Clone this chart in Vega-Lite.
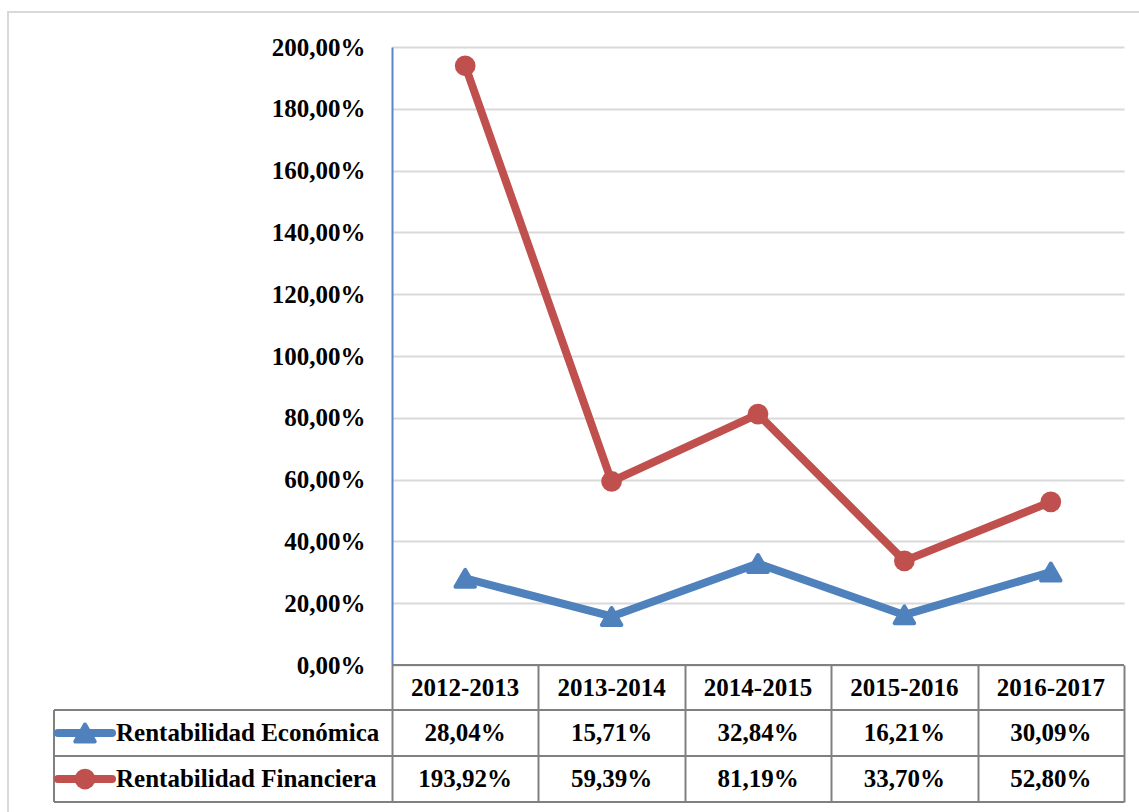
{
  "$schema": "https://vega.github.io/schema/vega-lite/v6.json",
  "width": 732,
  "height": 618,
  "autosize": {"type": "none"},
  "padding": {"left": 392, "top": 47, "right": 15, "bottom": 147},
  "background": "white",
  "config": {
    "view": {"stroke": null},
    "font": "Liberation Serif",
    "text": {"font": "Liberation Serif", "fontWeight": "bold", "fontSize": 25, "color": "#000000", "baseline": "middle"}
  },
  "data": {
    "values": [
      {"period": "2012-2013", "re": 28.04, "rf": 193.92},
      {"period": "2013-2014", "re": 15.71, "rf": 59.39},
      {"period": "2014-2015", "re": 32.84, "rf": 81.19},
      {"period": "2015-2016", "re": 16.21, "rf": 33.70},
      {"period": "2016-2017", "re": 30.09, "rf": 52.80}
    ]
  },
  "transform": [
    {"window": [{"op": "row_number", "as": "i"}]},
    {"calculate": "replace(format(datum.re, '.2f'), '.', ',') + '%'", "as": "re_lbl"},
    {"calculate": "replace(format(datum.rf, '.2f'), '.', ',') + '%'", "as": "rf_lbl"}
  ],
  "layer": [
    {
      "data": {"values": [{}]},
      "mark": {"type": "rect", "fill": null, "stroke": "#d9d9d9", "strokeWidth": 2, "clip": false},
      "encoding": {
        "x": {"datum": -2.123, "type": "quantitative", "scale": {"domain": [0.5, 5.5], "nice": false, "zero": false}},
        "x2": {"datum": 6.2},
        "y": {"datum": 211.3, "type": "quantitative", "scale": {"domain": [0, 200], "nice": false, "zero": false}},
        "y2": {"datum": -60}
      }
    },
    {
      "mark": {"type": "line", "color": "#4F81BD", "strokeWidth": 8, "strokeJoin": "round", "strokeCap": "round"},
      "encoding": {
        "x": {
          "field": "i", "type": "quantitative",
          "scale": {"domain": [0.5, 5.5], "nice": false, "zero": false},
          "axis": {
            "values": [0.5, 1.5, 2.5, 3.5, 4.5, 5.5],
            "labels": false, "domain": false, "grid": false, "title": null,
            "ticks": true, "tickSize": 137, "tickColor": "#808080", "tickWidth": 2
          }
        },
        "y": {
          "field": "re", "type": "quantitative",
          "scale": {"domain": [0, 200], "nice": false, "zero": false},
          "axis": {
            "values": [0, 20, 40, 60, 80, 100, 120, 140, 160, 180, 200],
            "title": null,
            "labelExpr": "replace(format(datum.value, '.2f'), '.', ',') + '%'",
            "labelFont": "Liberation Serif", "labelFontWeight": "bold", "labelFontSize": 25, "labelColor": "#000000",
            "labelPadding": 27, "ticks": false, "tickSize": 0,
            "domain": true, "domainColor": "#5B86C5", "domainWidth": 2,
            "grid": true, "gridColor": "#d9d9d9", "gridWidth": 2
          }
        }
      }
    },
    {
      "mark": {"type": "point", "shape": "triangle-up", "filled": true, "color": "#4F81BD", "size": 380, "stroke": "#4F81BD", "strokeWidth": 4, "strokeJoin": "round", "opacity": 1},
      "encoding": {
        "x": {"field": "i", "type": "quantitative"},
        "y": {"field": "re", "type": "quantitative"}
      }
    },
    {
      "mark": {"type": "line", "color": "#C0504D", "strokeWidth": 8, "strokeJoin": "round", "strokeCap": "round"},
      "encoding": {
        "x": {"field": "i", "type": "quantitative"},
        "y": {"field": "rf", "type": "quantitative"}
      }
    },
    {
      "mark": {"type": "point", "shape": "circle", "filled": true, "color": "#C0504D", "size": 430, "opacity": 1},
      "encoding": {
        "x": {"field": "i", "type": "quantitative"},
        "y": {"field": "rf", "type": "quantitative"}
      }
    },
    {
      "data": {"values": [{}]},
      "mark": {"type": "rule", "color": "#808080", "strokeWidth": 2},
      "encoding": {"x": {"datum": 0.5}, "x2": {"datum": 5.5}, "y": {"datum": 0}}
    },
    {
      "data": {"values": [{}]},
      "mark": {"type": "rule", "color": "#808080", "strokeWidth": 2, "clip": false},
      "encoding": {"x": {"datum": -1.8087}, "x2": {"datum": 5.5}, "y": {"datum": -14.56}}
    },
    {
      "data": {"values": [{}]},
      "mark": {"type": "rule", "color": "#808080", "strokeWidth": 2},
      "encoding": {"x": {"datum": -1.8087}, "x2": {"datum": 5.5}, "y": {"datum": -29.45}}
    },
    {
      "data": {"values": [{}]},
      "mark": {"type": "rule", "color": "#808080", "strokeWidth": 2},
      "encoding": {"x": {"datum": -1.8087}, "x2": {"datum": 5.5}, "y": {"datum": -44.34}}
    },
    {
      "data": {"values": [{}]},
      "mark": {"type": "rule", "color": "#808080", "strokeWidth": 2},
      "encoding": {"x": {"datum": -1.8087}, "y": {"datum": -14.56}, "y2": {"datum": -44.34}}
    },
    {
      "mark": {"type": "text", "align": "center"},
      "encoding": {
        "x": {"field": "i", "type": "quantitative"},
        "y": {"datum": -7.44},
        "text": {"field": "period"}
      }
    },
    {
      "mark": {"type": "text", "align": "center"},
      "encoding": {
        "x": {"field": "i", "type": "quantitative"},
        "y": {"datum": -22.0},
        "text": {"field": "re_lbl"}
      }
    },
    {
      "mark": {"type": "text", "align": "center"},
      "encoding": {
        "x": {"field": "i", "type": "quantitative"},
        "y": {"datum": -36.9},
        "text": {"field": "rf_lbl"}
      }
    },
    {
      "data": {"values": [{}]},
      "mark": {"type": "rule", "color": "#4F81BD", "strokeWidth": 8, "strokeCap": "round"},
      "encoding": {"x": {"datum": -1.7814}, "x2": {"datum": -1.4126}, "y": {"datum": -22.0}}
    },
    {
      "data": {"values": [{}]},
      "mark": {"type": "point", "shape": "triangle-up", "filled": true, "color": "#4F81BD", "size": 380, "stroke": "#4F81BD", "strokeWidth": 4, "strokeJoin": "round", "opacity": 1},
      "encoding": {"x": {"datum": -1.597}, "y": {"datum": -22.0}}
    },
    {
      "data": {"values": [{}]},
      "mark": {"type": "rule", "color": "#C0504D", "strokeWidth": 8, "strokeCap": "round"},
      "encoding": {"x": {"datum": -1.7814}, "x2": {"datum": -1.4126}, "y": {"datum": -36.9}}
    },
    {
      "data": {"values": [{}]},
      "mark": {"type": "point", "shape": "circle", "filled": true, "color": "#C0504D", "size": 430, "opacity": 1},
      "encoding": {"x": {"datum": -1.597}, "y": {"datum": -36.9}}
    },
    {
      "data": {"values": [{}]},
      "mark": {"type": "text", "align": "left"},
      "encoding": {"x": {"datum": -1.3852}, "y": {"datum": -22.0}, "text": {"value": "Rentabilidad Económica"}}
    },
    {
      "data": {"values": [{}]},
      "mark": {"type": "text", "align": "left"},
      "encoding": {"x": {"datum": -1.3852}, "y": {"datum": -36.9}, "text": {"value": "Rentabilidad Financiera"}}
    }
  ]
}
